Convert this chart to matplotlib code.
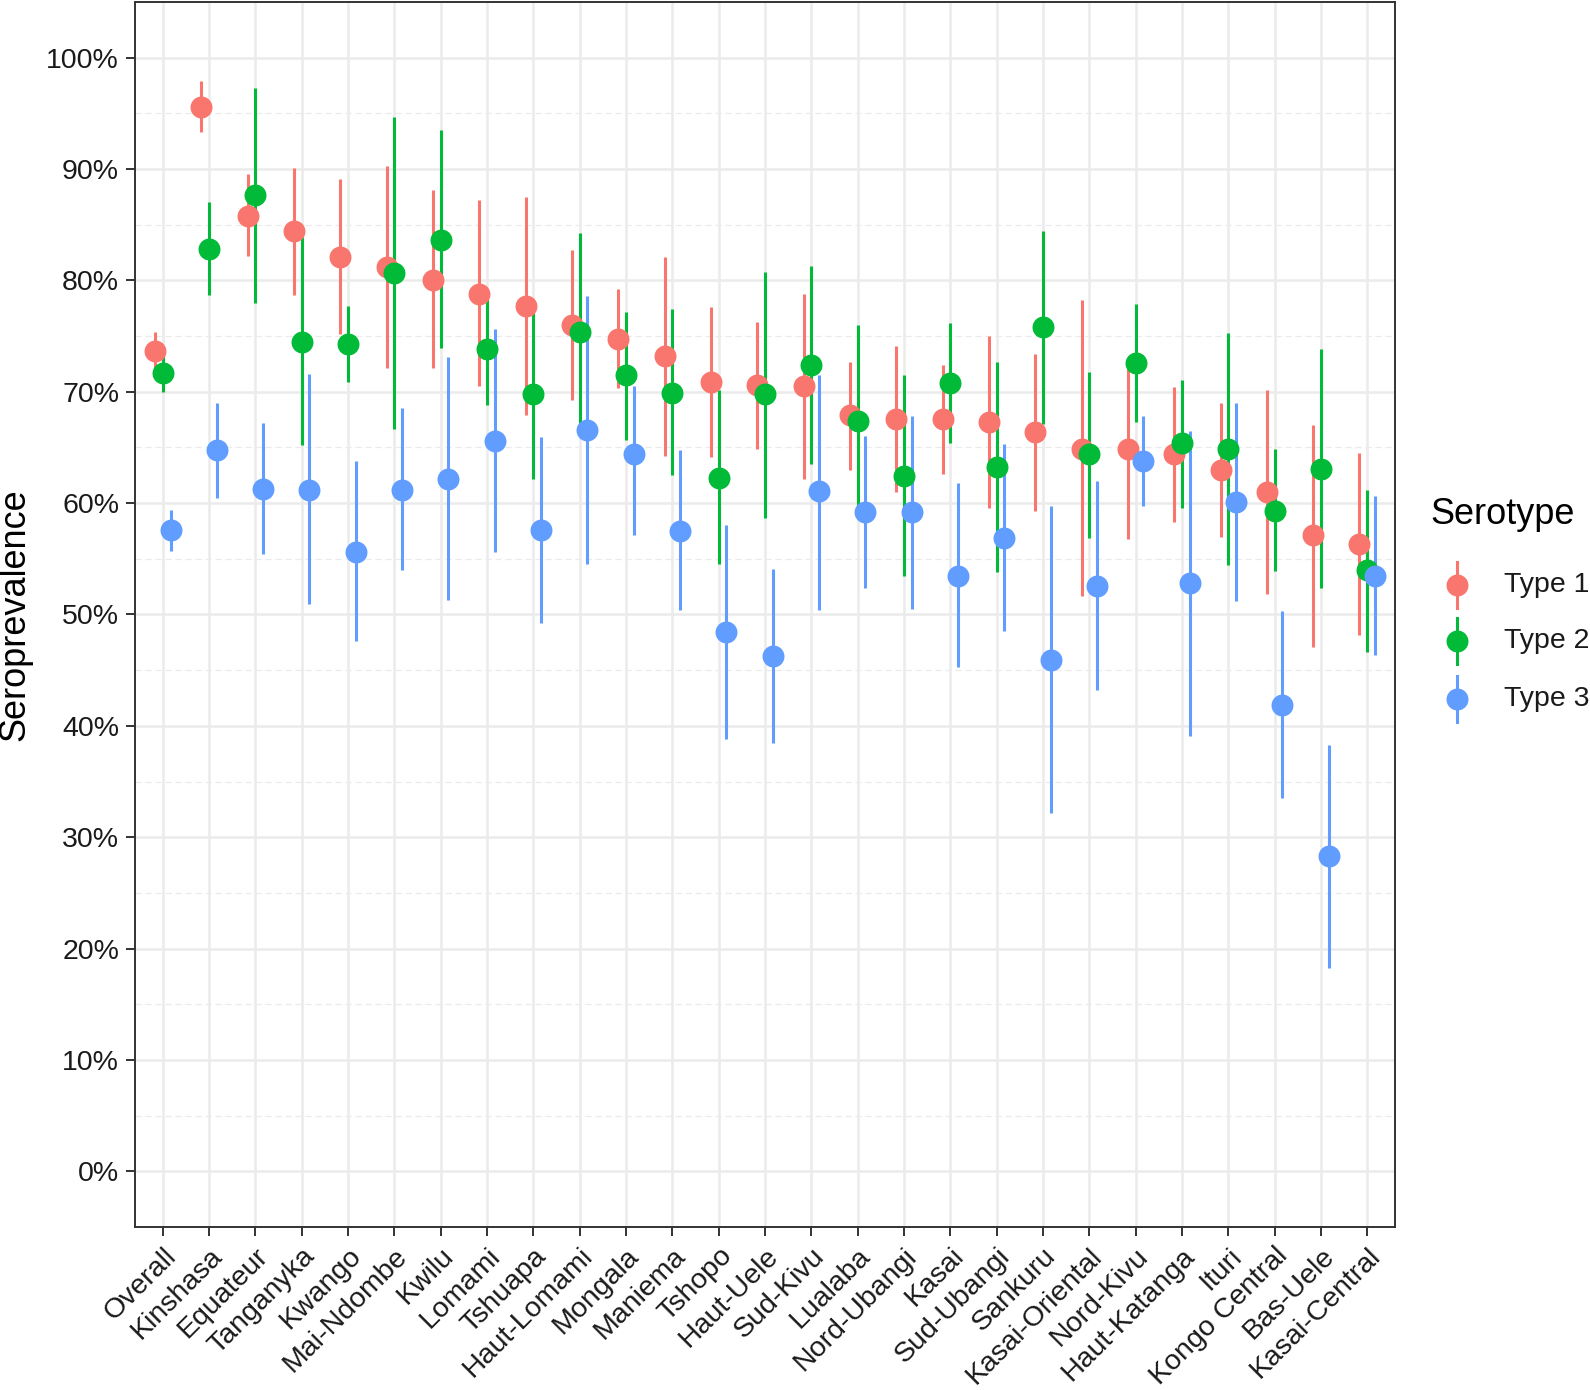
import matplotlib
matplotlib.use("Agg")
import matplotlib.pyplot as plt
import numpy as np
from matplotlib.lines import Line2D

plt.rcParams['font.family'] = ['Liberation Sans', 'DejaVu Sans']

categories = ["Overall", "Kinshasa", "Equateur", "Tanganyka", "Kwango", "Mai-Ndombe", "Kwilu",
              "Lomami", "Tshuapa", "Haut-Lomami", "Mongala", "Maniema", "Tshopo", "Haut-Uele",
              "Sud-Kivu", "Lualaba", "Nord-Ubangi", "Kasai", "Sud-Ubangi", "Sankuru",
              "Kasai-Oriental", "Nord-Kivu", "Haut-Katanga", "Ituri", "Kongo Central",
              "Bas-Uele", "Kasai-Central"]

type1_est = [73.7, 95.6, 85.8, 84.4, 82.1, 81.2, 80.0, 78.8, 77.7, 76.0, 74.7, 73.2, 70.9, 70.6,
             70.5, 67.9, 67.6, 67.6, 67.3, 66.4, 64.9, 64.9, 64.4, 63.0, 61.0, 57.1, 56.3]
type1_lo = [72.0, 93.3, 82.2, 78.7, 75.2, 72.1, 72.1, 70.5, 67.9, 69.3, 70.3, 64.2, 64.1, 64.9,
            62.2, 63.0, 61.0, 62.6, 59.6, 59.3, 51.7, 56.8, 58.3, 57.0, 51.8, 47.1, 48.2]
type1_hi = [75.4, 97.9, 89.6, 90.1, 89.1, 90.3, 88.1, 87.2, 87.5, 82.7, 79.2, 82.1, 77.6, 76.3,
            78.8, 72.7, 74.1, 72.4, 75.0, 73.4, 78.2, 72.5, 70.4, 69.0, 70.2, 67.0, 64.5]

type2_est = [71.7, 82.8, 87.7, 74.5, 74.3, 80.7, 83.6, 73.8, 69.8, 75.4, 71.5, 69.9, 62.3, 69.8,
             72.4, 67.4, 62.4, 70.8, 63.2, 75.8, 64.4, 72.6, 65.4, 64.9, 59.3, 63.1, 54.0]
type2_lo = [70.0, 78.7, 78.0, 65.2, 70.9, 66.7, 73.9, 68.8, 62.2, 66.9, 65.7, 62.5, 54.5, 58.7,
            63.5, 59.4, 53.5, 65.4, 53.8, 67.1, 56.9, 67.3, 59.6, 54.4, 53.9, 52.4, 46.6]
type2_hi = [73.3, 87.0, 97.3, 83.9, 77.7, 94.7, 93.5, 78.4, 77.2, 84.3, 77.2, 77.4, 70.2, 80.8,
            81.3, 76.0, 71.5, 76.2, 72.7, 84.4, 71.8, 77.9, 71.1, 75.3, 64.9, 73.8, 61.2]

type3_est = [57.6, 64.8, 61.3, 61.2, 55.6, 61.2, 62.2, 65.6, 57.6, 66.6, 64.4, 57.5, 48.4, 46.3,
             61.1, 59.2, 59.2, 53.5, 56.9, 45.9, 52.6, 63.8, 52.8, 60.1, 41.9, 28.3, 53.5]
type3_lo = [55.7, 60.5, 55.4, 50.9, 47.6, 54.0, 51.3, 55.6, 49.2, 54.5, 57.1, 50.4, 38.8, 38.5,
            50.4, 52.4, 50.5, 45.3, 48.5, 32.2, 43.2, 59.7, 39.1, 51.2, 33.5, 18.3, 46.4]
type3_hi = [59.4, 69.0, 67.2, 71.6, 63.8, 68.5, 73.1, 75.6, 65.9, 78.6, 70.5, 64.8, 58.0, 54.1,
            71.5, 66.0, 67.8, 61.8, 65.3, 59.7, 62.0, 67.8, 66.5, 69.0, 50.3, 38.3, 60.6]

series_labels = ["Type 1", "Type 2", "Type 3"]
series_colors = ["#F8766D", "#00BA38", "#619CFF"]

W, H = 1590, 1390
fig = plt.figure(figsize=(W / 100, H / 100), dpi=100)
L, R, T, B = 135, 1395, 2, 1227
ax = fig.add_axes([L / W, 1 - B / H, (R - L) / W, (B - T) / H])

x = np.arange(len(categories))
offsets = [-1 / 6, 0, 1 / 6]
series = [(type1_est, type1_lo, type1_hi), (type2_est, type2_lo, type2_hi),
          (type3_est, type3_lo, type3_hi)]

# lines first, then points (like ggplot pointrange)
for (est, lo, hi), off, col in zip(series, offsets, series_colors):
    ax.vlines(x + off, lo, hi, colors=col, linewidth=2.2, zorder=3)
for (est, lo, hi), off, col in zip(series, offsets, series_colors):
    ax.plot(x + off, est, 'o', color=col, markersize=15.8, markeredgewidth=0, zorder=4)

ax.set_xlim(-0.6, len(categories) - 0.4)
ax.set_ylim(-5, 105)

grid_col = "#EBEBEB"
ax.set_yticks(np.arange(0, 101, 10))
ax.set_yticklabels([f"{v}%" for v in range(0, 101, 10)])
ax.set_yticks(np.arange(5, 100, 10), minor=True)
ax.set_xticks(x)
ax.set_xticklabels(categories, rotation=45, ha='right', va='top', rotation_mode='anchor')

ax.grid(which='major', axis='both', color=grid_col, linewidth=1.8, zorder=0)
ax.grid(which='minor', axis='y', color=grid_col, linewidth=0.9, linestyle=(0, (5, 3)), zorder=0)
ax.set_axisbelow(True)

for s in ax.spines.values():
    s.set_color("#333333")
    s.set_linewidth(1.4)

ax.tick_params(axis='both', which='major', direction='out', length=6.5, width=1.4,
               color="#333333", labelsize=20.5, labelcolor="#1A1A1A", pad=5)
ax.tick_params(axis='y', which='minor', length=0)

ax.set_ylabel("Seroprevalence", fontsize=26, labelpad=10, color="black")

# legend
fig.text(1430 / W, 1 - 515 / H, "Serotype", fontsize=26, ha='left', va='center', color='black')
key_y = [585, 641, 699]
kx = 1457
for ky, lab, col in zip(key_y, series_labels, series_colors):
    fig.add_artist(Line2D([kx / W, kx / W], [1 - (ky - 23) / H, 1 - (ky + 23) / H],
                          color=col, linewidth=2.2))
    fig.add_artist(Line2D([kx / W], [1 - ky / H], marker='o', color=col, markersize=15.8,
                          markeredgewidth=0, linestyle='none'))
    fig.text(1504 / W, 1 - ky / H, lab, fontsize=20.5, ha='left', va='center', color='#1A1A1A')

fig.savefig("out.png", dpi=100)
